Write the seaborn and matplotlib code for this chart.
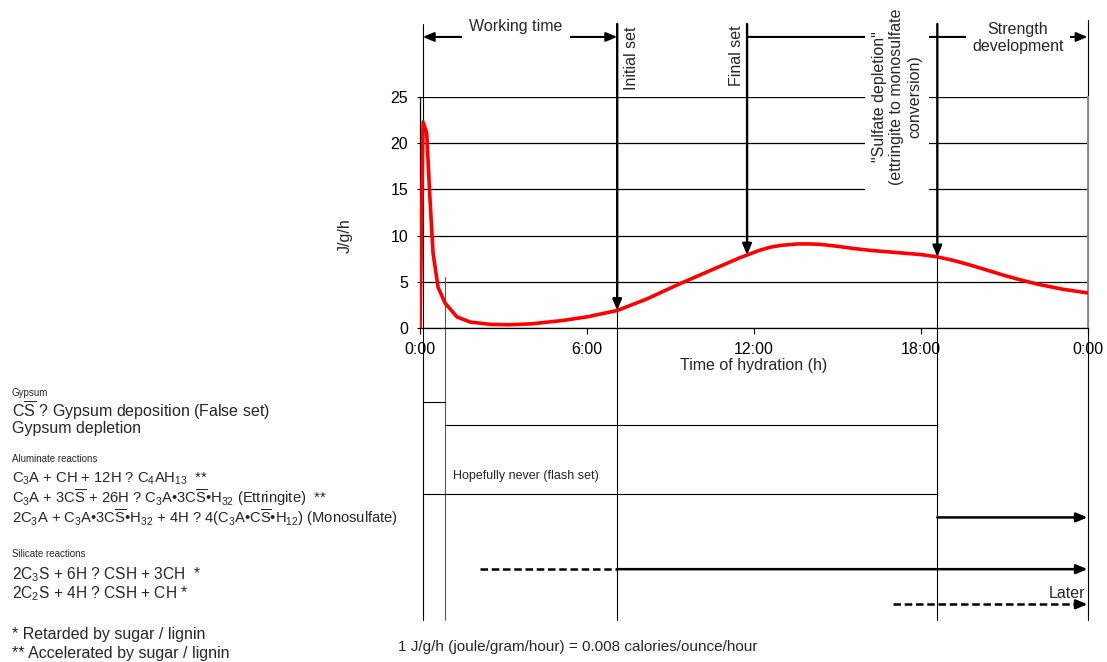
import numpy as np
import matplotlib
matplotlib.use("Agg")
import matplotlib.pyplot as plt
import seaborn as sns

# -------------------------------
# Data
# -------------------------------
# heat of hydration curve (hours after mixing, J/g/h)
hours = [0.0, 0.11, 0.24, 0.36, 0.47, 0.65, 0.9, 1.33, 1.8, 2.5,
         3.2, 4.0, 5.1, 6.0, 7.1, 8.2, 9.35, 10.5, 11.5, 11.76,
         12.2, 12.6, 13.0, 13.6, 14.0, 14.4, 15.0, 15.6, 16.2, 16.8,
         17.4, 18.0, 18.6, 19.2, 19.8, 20.4, 21.0, 21.6, 22.2, 23.1,
         24.0]
heat = [0.0, 22.3, 21.1, 13.9, 8.1, 4.4, 2.7, 1.2, 0.65, 0.4,
        0.35, 0.45, 0.8, 1.2, 1.9, 3.2, 4.8, 6.3, 7.6, 7.9,
        8.4, 8.75, 8.95, 9.1, 9.1, 9.05, 8.85, 8.6, 8.4, 8.25,
        8.1, 7.95, 7.7, 7.3, 6.8, 6.25, 5.7, 5.2, 4.75, 4.2,
        3.8]

tick_hours = [0, 6, 12, 18, 24]
tick_labels = ["0:00", "6:00", "12:00", "18:00", "0:00"]
y_ticks = [0, 5, 10, 15, 20, 25]

# set markers (hours) with arrows down to the curve
event_hours = [7.09, 11.76, 18.6]
event_labels = ["Initial set", "Final set",
                '"Sulfate depletion"\n(ettringite to monosulfate\nconversion)']
start_hour = 0.1
end_hour = 24.0
gypsum_hour = 0.9

# reaction timeline below the chart (y in the chart's J/g/h units)
row_y = [-8.0, -10.5, -18.0]
row_from = [start_hour, gypsum_hour, start_hour]
row_to = [gypsum_hour, 18.6, 18.6]

solid_arrow_y = [-20.5, -26.1]
solid_arrow_from = [18.6, 7.09]
dashed_y = [-26.1, -29.9]
dashed_from = [2.16, 17.0]
dashed_to = [7.09, 24.0]
dashed_head = [False, True]

# left hand legend text
left_small = ["Gypsum", "Aluminate reactions", "Silicate reactions"]
left_small_px = [396, 462, 557]
left_lines = [
    r"C$\overline{S}$ ? Gypsum deposition (False set)",
    "Gypsum depletion",
    r"C$_3$A + CH + 12H ? C$_4$AH$_{13}$  **",
    r"C$_3$A + 3C$\overline{S}$ + 26H ? C$_3$A•3C$\overline{S}$•H$_{32}$ (Ettringite)  **",
    r"2C$_3$A + C$_3$A•3C$\overline{S}$•H$_{32}$ + 4H ? 4(C$_3$A•C$\overline{S}$•H$_{12}$) (Monosulfate)",
    r"2C$_3$S + 6H ? CSH + 3CH  *",
    r"2C$_2$S + 4H ? CSH + CH *",
    "* Retarded by sugar / lignin",
    "** Accelerated by sugar / lignin",
]
left_lines_px = [417, 433, 483, 503, 523, 579, 598, 639, 658]
left_sizes = [11.5, 11.5, 10.6, 10.6, 10.6, 11.2, 11.2, 11.5, 11.5]

TOP = 32.9
BAR_Y = 31.5
BOTTOM = -31.6

# -------------------------------
# Style
# -------------------------------
sns.set_style("white")
plt.rcParams["font.family"] = ["Liberation Sans", "DejaVu Sans"]
plt.rcParams["mathtext.fontset"] = "custom"
plt.rcParams["mathtext.rm"] = "Liberation Sans"
plt.rcParams["mathtext.it"] = "Liberation Sans:italic"
plt.rcParams["mathtext.default"] = "regular"

W, H = 1107, 662
fig = plt.figure(figsize=(W / 100, H / 100), dpi=100)
ax = fig.add_axes([420 / W, (H - 328) / H, 667.5 / W, 231 / H])

sns.lineplot(x=hours, y=heat, color="red", lw=2.6, ax=ax,
             estimator=None, sort=False, zorder=6)

ax.set_xlim(0, 24)
ax.set_ylim(0, 25)
ax.set_xticks(tick_hours)
ax.set_xticklabels(tick_labels)
ax.set_yticks(y_ticks)
ax.tick_params(axis="x", direction="out", length=4, width=0.8, pad=6,
               labelsize=11.5, colors="black", bottom=True)
ax.tick_params(axis="y", direction="out", length=2, width=0.8, pad=6.5,
               labelsize=11.5, colors="black", left=True)
ax.grid(axis="y", color="black", lw=0.9)
ax.set_axisbelow(True)
ax.spines["top"].set_visible(False)
ax.spines["right"].set_color("0.55")
ax.spines["right"].set_linewidth(1.4)
for s in ["left", "bottom"]:
    ax.spines[s].set_color("black")
    ax.spines[s].set_linewidth(0.9)

ax.set_xlabel("Time of hydration (h)", fontsize=11.5, labelpad=1)
ax.set_ylabel("J/g/h", fontsize=11.5)
ax.yaxis.set_label_coords(-0.101, 0.4)


def arrow(x0, y0, x1, y1, lw=1.6, z=7):
    ax.annotate("", xy=(x1, y1), xytext=(x0, y0), annotation_clip=False,
                arrowprops=dict(arrowstyle="-|>,head_length=0.6,head_width=0.25",
                                color="black", lw=lw, mutation_scale=11,
                                shrinkA=0, shrinkB=0), zorder=z)


# thin vertical guide lines through chart and timeline
tip = np.interp(event_hours, hours, heat)
guide_x = [start_hour, gypsum_hour, event_hours[0], event_hours[2], end_hour]
guide_top = [TOP, 5.5, tip[0], tip[2], TOP + 0.4]
guide_col = ["black", "0.35", "black", "black", "black"]
for gx, gt, gc in zip(guide_x, guide_top, guide_col):
    ax.plot([gx, gx], [BOTTOM, gt], color=gc, lw=0.8, clip_on=False, zorder=2)

# thick arrows down to the curve
for eh, t in zip(event_hours, tip):
    arrow(eh, TOP, eh, t, lw=1.7)

# working time
ax.annotate("", xy=(event_hours[0], BAR_Y), xytext=(start_hour, BAR_Y),
            annotation_clip=False,
            arrowprops=dict(arrowstyle="<|-|>,head_length=0.6,head_width=0.25",
                            color="black", lw=1.5, mutation_scale=11,
                            shrinkA=0, shrinkB=0), zorder=3)
ax.text(3.45, 32.6, "Working time", ha="center", va="center", fontsize=11.5,
        bbox=dict(boxstyle="square,pad=0.45", fc="white", ec="none"), zorder=4)

# final set -> strength development
ax.annotate("", xy=(end_hour, BAR_Y), xytext=(event_hours[1], BAR_Y),
            annotation_clip=False,
            arrowprops=dict(arrowstyle="-|>,head_length=0.6,head_width=0.25",
                            color="black", lw=1.5, mutation_scale=11,
                            shrinkA=0, shrinkB=0), zorder=3)
ax.text(21.5, 31.4, "Strength\ndevelopment", ha="center", va="center",
        fontsize=11.5, bbox=dict(boxstyle="square,pad=0.4", fc="white", ec="none"),
        zorder=4, clip_on=False)

ax.text(7.6, 32.6, event_labels[0], rotation=90, ha="center", va="top",
        fontsize=11.5, clip_on=False)
ax.text(11.38, 32.8, event_labels[1], rotation=90, ha="center", va="top",
        fontsize=11.5, clip_on=False)
ax.text(17.15, 25.0, event_labels[2], rotation=90, ha="center", va="center",
        multialignment="center", fontsize=11.5, clip_on=False, zorder=4,
        bbox=dict(boxstyle="square,pad=0.45", fc="white", ec="none"))

# timeline rows
for ry, r0, r1 in zip(row_y, row_from, row_to):
    ax.plot([r0, r1], [ry, ry], color="black", lw=0.8, clip_on=False, zorder=2)
ax.text(1.19, -16.0, "Hopefully never (flash set)", ha="left", va="center",
        fontsize=9)

for ay, a0 in zip(solid_arrow_y, solid_arrow_from):
    arrow(a0, ay, end_hour, ay, lw=1.8)

for dy, d0, d1, head in zip(dashed_y, dashed_from, dashed_to, dashed_head):
    ax.plot([d0, d1 - (0.3 if head else 0)], [dy, dy], color="black", lw=1.8,
            ls=(0, (3, 1.5)), clip_on=False, zorder=3)
    if head:
        arrow(d1 - 0.35, dy, d1, dy, lw=1.8)

ax.text(23.93, -28.7, "Later", ha="right", va="center", fontsize=11.5)

# left hand reactions text
for txt, py in zip(left_small, left_small_px):
    fig.text(12 / W, 1 - py / H, txt, fontsize=7, va="baseline")
for txt, py, fs in zip(left_lines, left_lines_px, left_sizes):
    fig.text(12 / W, 1 - py / H, txt, fontsize=fs, va="baseline")

fig.text(398 / W, 1 - 651 / H,
         "1 J/g/h (joule/gram/hour) = 0.008 calories/ounce/hour",
         fontsize=11, va="baseline")

fig.savefig("out.png", dpi=100)
